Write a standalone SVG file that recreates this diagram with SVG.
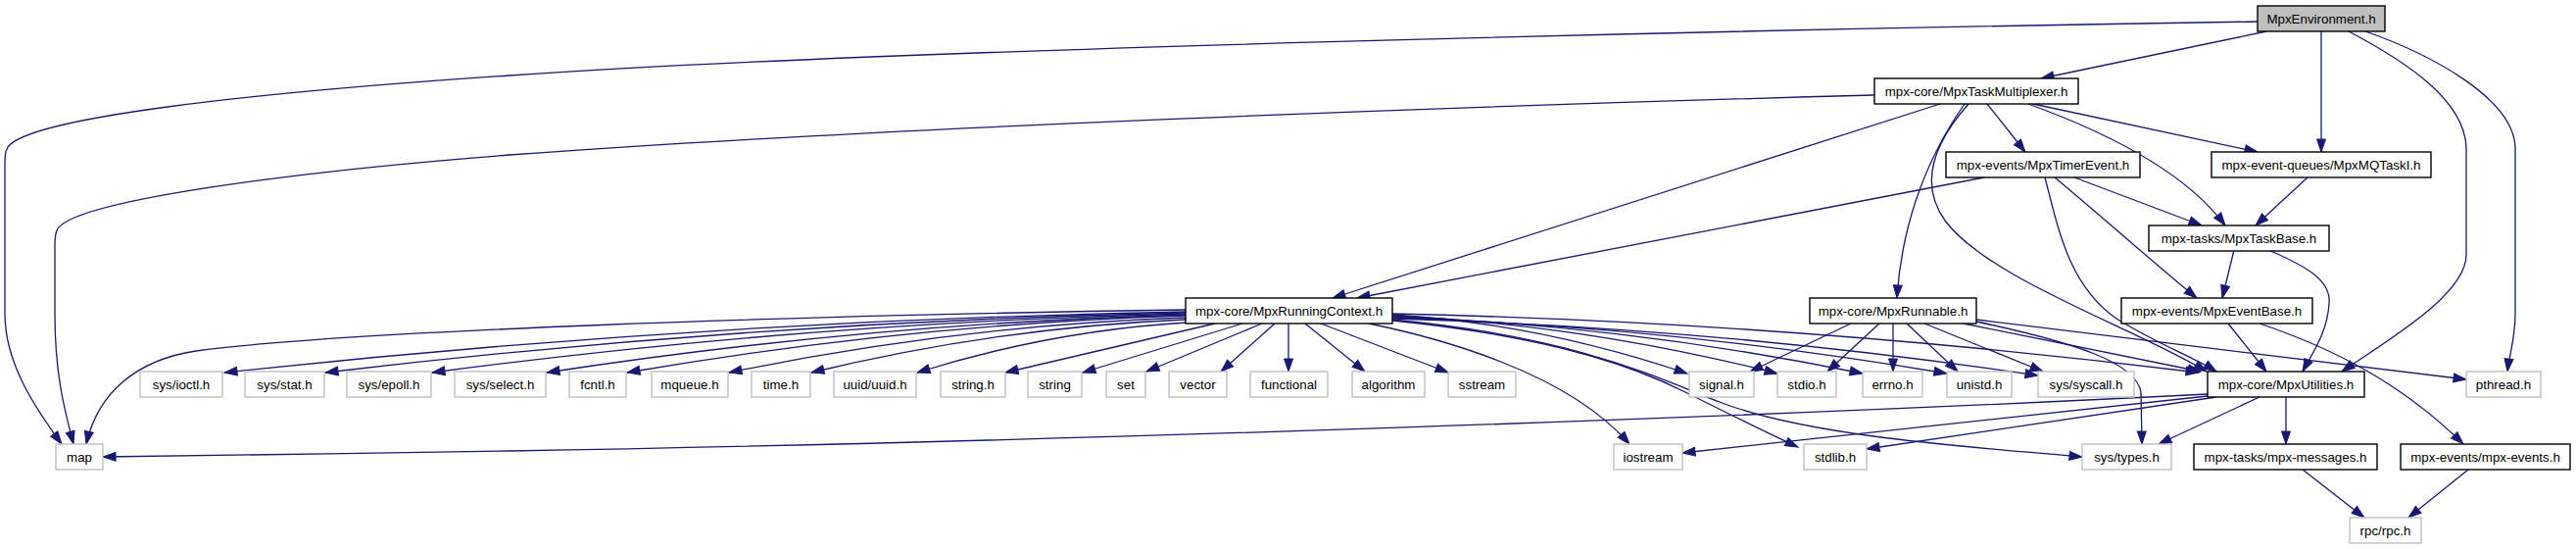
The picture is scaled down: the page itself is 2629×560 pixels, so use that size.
<svg xmlns="http://www.w3.org/2000/svg" width="2629" height="560" viewBox="0 0 2629 560">
<style>
.n rect{fill:#fff;stroke:#000;stroke-width:1.4}
.g rect{fill:#fff;stroke:#bfbfbf;stroke-width:1.4}
.r rect{fill:#bfbfbf;stroke:#000;stroke-width:1.4}
text{font-family:"Liberation Sans",Arial,sans-serif;font-size:13.33px;text-anchor:middle;fill:#000}
#edges path{fill:none;stroke:#191970;stroke-width:1.3;marker-end:url(#a)}
</style>
<defs>
<marker id="a" markerUnits="userSpaceOnUse" markerWidth="15" markerHeight="11" refX="13" refY="5" orient="auto" overflow="visible">
<path d="M0,0.5 L13,5 L0,9.5 z" fill="#191970" stroke="#191970" stroke-width="1"/>
</marker>
</defs>
<rect width="2629" height="560" fill="#fff"/>
<g id="edges">
<path d="M2304,22 C1800,30 900,50 520,77 C250,95 30,120 8,150 C5,155 5,160 5,170 L5,320 C5,370 35,415 63,453"/>
<path d="M2313,32 L2083,80"/>
<path d="M2369,32 L2369,155"/>
<path d="M2397,32 C2450,60 2515,100 2517,150 L2517,260 C2517,300 2440,345 2390,379"/>
<path d="M2414,32 C2480,55 2565,100 2567,150 L2567,320 C2567,345 2561,362 2559,379"/>
<path d="M1913,97 C1500,108 900,130 520,158 C300,175 70,205 58,235 C56,240 56,245 56,250 L56,320 C56,380 65,415 75,453"/>
<path d="M1980,106 L1360,304"/>
<path d="M2028,106 L2067,155"/>
<path d="M2075,106 L2304,155"/>
<path d="M2070,106 C2150,135 2230,175 2271,230"/>
<path d="M2005,106 C1960,170 1940,240 1936,304"/>
<path d="M2009,106 C1970,150 1960,190 1985,225 C2030,285 2180,335 2252,379"/>
<path d="M2025,181 L1385,304"/>
<path d="M2117,181 L2247,230"/>
<path d="M2097,181 C2150,225 2200,270 2242,304"/>
<path d="M2087,181 C2100,230 2110,290 2160,325 C2200,350 2240,365 2262,379"/>
<path d="M2355,181 L2302,230"/>
<path d="M2280,255 L2268,304"/>
<path d="M2315,255 C2350,270 2380,285 2377,310 C2375,340 2360,360 2350,379"/>
<path d="M2274,330 L2313,379"/>
<path d="M2306,330 C2380,355 2450,390 2514,453"/>
<path d="M1889,330 L1786,379"/>
<path d="M1918,330 L1865,379"/>
<path d="M1932,330 L1932,379"/>
<path d="M1946,330 L1998,379"/>
<path d="M1964,330 L2085,379"/>
<path d="M2004,330 L2246,379"/>
<path d="M2017,328 C2120,350 2180,370 2185,400 L2186,453"/>
<path d="M2017,326 L2517,387"/>
<path d="M1210,316 C800,322 350,338 200,358 C140,367 100,400 88,453"/>
<path d="M1210,318 Q720,327 229,380"/>
<path d="M1210,319 Q771,328 332,380"/>
<path d="M1210,320 Q826,329 441,380"/>
<path d="M1210,321 Q884,330 558,380"/>
<path d="M1210,322 Q925,331 640,380"/>
<path d="M1210,324 Q977,332 744,380"/>
<path d="M1210,326 Q1019,334 828,380"/>
<path d="M1212,329 Q1074,337 936,380"/>
<path d="M1240,330 L1026,380"/>
<path d="M1268,330 L1105,380"/>
<path d="M1288,330 L1170,379"/>
<path d="M1301,330 L1246,379"/>
<path d="M1315,330 L1315,379"/>
<path d="M1332,330 L1393,379"/>
<path d="M1348,330 L1478,380"/>
<path d="M1421,321 Q1571,330 1722,381"/>
<path d="M1421,322 Q1617,331 1814,381"/>
<path d="M1421,323 Q1661,332 1901,381"/>
<path d="M1421,324 Q1704,333 1987,381"/>
<path d="M1421,325 Q1750,334 2080,383"/>
<path d="M1421,320 Q1832,329 2244,380"/>
<path d="M1397,330 C1470,345 1600,380 1663,453"/>
<path d="M1421,327 C1600,345 1680,380 1720,400 C1770,425 1800,440 1835,456"/>
<path d="M1421,326 C1620,345 1700,390 1760,412 C1850,445 2000,455 2125,466"/>
<path d="M2253,402 C1800,425 1100,450 520,460 C400,462 200,465 105,466"/>
<path d="M2253,404 L1717,462"/>
<path d="M2262,405 L1905,458"/>
<path d="M2306,405 L2203,453"/>
<path d="M2333,405 L2333,453"/>
<path d="M2350,479 L2413,528"/>
<path d="M2519,479 L2458,528"/>
</g>
<g id="n_env" class="r"><rect x="2304" y="6" width="130" height="26"/><text x="2369" y="23.5">MpxEnvironment.h</text></g>
<g id="n_tm" class="n"><rect x="1913" y="80" width="208" height="26"/><text x="2017" y="97.5">mpx-core/MpxTaskMultiplexer.h</text></g>
<g id="n_te" class="n"><rect x="1986" y="155" width="198" height="26"/><text x="2085" y="172.5">mpx-events/MpxTimerEvent.h</text></g>
<g id="n_mq" class="n"><rect x="2257" y="155" width="224" height="26"/><text x="2369" y="172.5">mpx-event-queues/MpxMQTaskI.h</text></g>
<g id="n_tb" class="n"><rect x="2193" y="230" width="184" height="26"/><text x="2285" y="247.5">mpx-tasks/MpxTaskBase.h</text></g>
<g id="n_rc" class="n"><rect x="1210" y="304" width="211" height="26"/><text x="1315.5" y="321.5">mpx-core/MpxRunningContext.h</text></g>
<g id="n_rn" class="n"><rect x="1847" y="304" width="170" height="26"/><text x="1932" y="321.5">mpx-core/MpxRunnable.h</text></g>
<g id="n_eb" class="n"><rect x="2165" y="304" width="195" height="26"/><text x="2262.5" y="321.5">mpx-events/MpxEventBase.h</text></g>
<g id="n_ut" class="n"><rect x="2253" y="379" width="160" height="26"/><text x="2333" y="396.5">mpx-core/MpxUtilities.h</text></g>
<g id="n_msg" class="n"><rect x="2239" y="453" width="187" height="26"/><text x="2332.5" y="470.5">mpx-tasks/mpx-messages.h</text></g>
<g id="n_evt" class="n"><rect x="2450" y="453" width="173" height="26"/><text x="2536.5" y="470.5">mpx-events/mpx-events.h</text></g>
<g id="n_map" class="g"><rect x="57" y="453" width="48" height="26"/><text x="81" y="470.5">map</text></g>
<g id="n_ioctl" class="g"><rect x="143" y="379" width="84" height="26"/><text x="185" y="396.5">sys/ioctl.h</text></g>
<g id="n_stat" class="g"><rect x="250" y="379" width="81" height="26"/><text x="290.5" y="396.5">sys/stat.h</text></g>
<g id="n_epoll" class="g"><rect x="354" y="379" width="86" height="26"/><text x="397" y="396.5">sys/epoll.h</text></g>
<g id="n_select" class="g"><rect x="464" y="379" width="93" height="26"/><text x="510.5" y="396.5">sys/select.h</text></g>
<g id="n_fcntl" class="g"><rect x="581" y="379" width="58" height="26"/><text x="610" y="396.5">fcntl.h</text></g>
<g id="n_mqueue" class="g"><rect x="665" y="379" width="78" height="26"/><text x="704" y="396.5">mqueue.h</text></g>
<g id="n_time" class="g"><rect x="767" y="379" width="60" height="26"/><text x="797" y="396.5">time.h</text></g>
<g id="n_uuid" class="g"><rect x="851" y="379" width="84" height="26"/><text x="893" y="396.5">uuid/uuid.h</text></g>
<g id="n_stringh" class="g"><rect x="960" y="379" width="66" height="26"/><text x="993" y="396.5">string.h</text></g>
<g id="n_string" class="g"><rect x="1049" y="379" width="55" height="26"/><text x="1076.5" y="396.5">string</text></g>
<g id="n_set" class="g"><rect x="1129" y="379" width="40" height="26"/><text x="1149" y="396.5">set</text></g>
<g id="n_vector" class="g"><rect x="1193" y="379" width="59" height="26"/><text x="1222.5" y="396.5">vector</text></g>
<g id="n_functional" class="g"><rect x="1276" y="379" width="79" height="26"/><text x="1315.5" y="396.5">functional</text></g>
<g id="n_algorithm" class="g"><rect x="1380" y="379" width="74" height="26"/><text x="1417" y="396.5">algorithm</text></g>
<g id="n_sstream" class="g"><rect x="1478" y="379" width="69" height="26"/><text x="1512.5" y="396.5">sstream</text></g>
<g id="n_signal" class="g"><rect x="1724" y="379" width="66" height="26"/><text x="1757" y="396.5">signal.h</text></g>
<g id="n_stdio" class="g"><rect x="1814" y="379" width="60" height="26"/><text x="1844" y="396.5">stdio.h</text></g>
<g id="n_errno" class="g"><rect x="1901" y="379" width="61" height="26"/><text x="1931.5" y="396.5">errno.h</text></g>
<g id="n_unistd" class="g"><rect x="1987" y="379" width="66" height="26"/><text x="2020" y="396.5">unistd.h</text></g>
<g id="n_syscall" class="g"><rect x="2080" y="379" width="98" height="26"/><text x="2129" y="396.5">sys/syscall.h</text></g>
<g id="n_pthread" class="g"><rect x="2517" y="379" width="76" height="26"/><text x="2555" y="396.5">pthread.h</text></g>
<g id="n_iostream" class="g"><rect x="1647" y="453" width="70" height="26"/><text x="1682" y="470.5">iostream</text></g>
<g id="n_stdlib" class="g"><rect x="1841" y="453" width="64" height="26"/><text x="1873" y="470.5">stdlib.h</text></g>
<g id="n_types" class="g"><rect x="2125" y="453" width="91" height="26"/><text x="2170.5" y="470.5">sys/types.h</text></g>
<g id="n_rpc" class="g"><rect x="2398" y="528" width="73" height="26"/><text x="2434.5" y="545.5">rpc/rpc.h</text></g>
</svg>
